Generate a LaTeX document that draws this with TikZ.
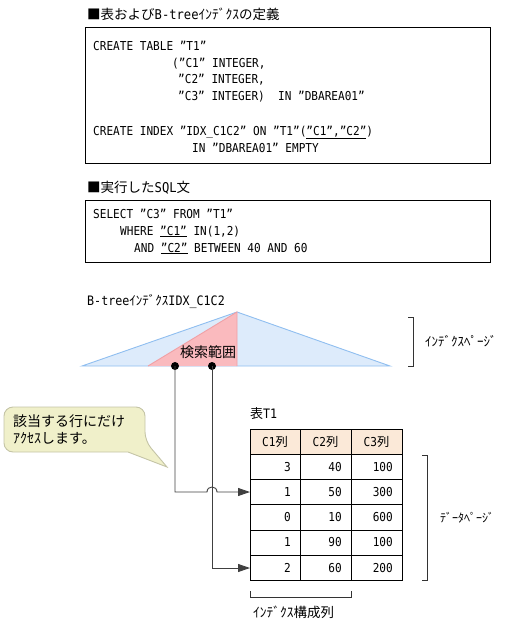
\documentclass[tikz,border=0pt]{standalone}
\usepackage{fontspec}
\newfontfamily\jp{Noto Sans CJK JP}
\newfontfamily\cd[FakeStretch=0.9]{DejaVu Sans Mono}
\usetikzlibrary{arrows.meta}
\definecolor{triblue}{RGB}{221,235,251}
\definecolor{tribluel}{RGB}{143,190,240}
\definecolor{tripink}{RGB}{250,186,190}
\definecolor{tripinkl}{RGB}{240,160,165}
\definecolor{hdrfill}{RGB}{251,233,216}
\definecolor{callfill}{RGB}{240,240,202}
\definecolor{callline}{RGB}{196,196,166}
\tikzset{
  code/.style={anchor=base west, inner sep=0pt, font=\cd\fontsize{12.3}{14}\selectfont},
  jlab/.style={anchor=base west, inner sep=0pt, font=\jp\fontsize{13.5}{15}\selectfont},
  hlab/.style={anchor=base west, inner sep=0pt, font=\jp\fontsize{12}{14}\selectfont},
  frame/.style={draw=black, line width=0.9pt},
  cell/.style={anchor=base east, inner sep=0pt, font=\cd\fontsize{12.3}{14}\selectfont},
  hcell/.style={anchor=base, inner sep=0pt, font=\cd\fontsize{12.3}{14}\selectfont},
  dot/.style={circle, fill=black, inner sep=0pt, minimum size=8pt},
  conn/.style={draw=black!75, line width=0.9pt},
  brk/.style={draw=black!80, line width=0.9pt},
  tip/.style={-{Triangle[length=12pt,width=8pt]}},
}
\begin{document}
\begin{tikzpicture}[x=1pt,y=-1pt]
\useasboundingbox (0,0) rectangle (507,624);

% ---- definitions box
\node[jlab] (title1) at (87,19) {■表および{\cd B-tree}ｲﾝﾃﾞｸｽの定義};
\draw[frame] (85,27) rectangle (490,163);
\node[code] (l1) at (93,50) {CREATE TABLE ”T1”};
\node[code] (l2) at (172,67) {(”C1” INTEGER,};
\node[code] (l3) at (178,83) {”C2” INTEGER,};
\node[code] (l4) at (178,100) {”C3” INTEGER)\ \ IN ”DBAREA01”};
\node[code] (l5) at (93,135) {CREATE INDEX ”IDX\_C1C2” ON ”T1”(\underline{”C1”,”C2”})};
\node[code] (l6) at (192,152) {IN ”DBAREA01” EMPTY};

% ---- SQL box
\node[jlab] (title2) at (87,192) {■実行した{\cd SQL}文};
\draw[frame] (85,200) rectangle (490,262);
\node[code] (s1) at (93,218) {SELECT ”C3” FROM ”T1”};
\node[code] (s2) at (120,235) {WHERE \underline{”C1”} IN(1,2)};
\node[code] (s3) at (134,252) {AND \underline{”C2”} BETWEEN 40 AND 60};

% ---- B-tree
\node[hlab, font=\jp\fontsize{13}{15}\selectfont] (treelab) at (87,305) {{\cd B-tree}ｲﾝﾃﾞｸｽ{\cd IDX\_C1C2}};
\fill[triblue] (82,366) -- (237,312) -- (390,366) -- cycle;
\draw[tribluel, line width=0.9pt] (82,366) -- (237,312) -- (390,366) -- cycle;
\fill[tripink] (148,366) -- (237,312) -- (237,366) -- cycle;
\draw[tripinkl, line width=0.9pt] (148,366) -- (237,312) -- (237,366);
\node[inner sep=0pt, font=\jp\fontsize{14}{16}\selectfont] (range) at (208,352) {検索範囲};
\draw[brk] (408,317) -- (413,317) -- (413,366) -- (408,366);
\node[hlab, font=\jp\fontsize{13}{15}\selectfont] (ipage) at (425,346) {ｲﾝﾃﾞｸｽﾍﾟｰｼﾞ};

% ---- callout
\draw[fill=callfill, draw=callline, line width=0.9pt]
  (4,430) [rounded corners=9] |- (145,407) -- (145,441) [sharp corners] -- (167,467) -- (128,452) [rounded corners=9] -| (4,430) -- cycle;
\node[anchor=base west, inner sep=0pt, font=\jp\fontsize{14}{16}\selectfont] (call1) at (13,426) {該当する行にだけ};
\node[anchor=base west, inner sep=0pt, font=\jp\fontsize{14}{16}\selectfont] (call2) at (13,443) {ｱｸｾｽします。};

% ---- table
\node[anchor=base west, inner sep=0pt, font=\jp\fontsize{13}{15}\selectfont] (tname) at (250,418) {表{\cd T1}};
\fill[hdrfill] (250,429) rectangle (402,454);
\draw[frame] (250,429) rectangle (402,580);
\foreach \yy in {454,479,504,530,555} \draw[frame] (250,\yy) -- (402,\yy);
\foreach \xx in {300,351} \draw[frame] (\xx,429) -- (\xx,580);
\node[hcell] (h1) at (275,446) {C1{\jp 列}};
\node[hcell] (h2) at (325.5,446) {C2{\jp 列}};
\node[hcell] (h3) at (376.5,446) {C3{\jp 列}};
\foreach \a/\b/\c [count=\i] in {3/40/100,1/50/300,0/10/600,1/90/100,2/60/200}{
  \node[cell] at (291,446+25.2*\i) {\a};
  \node[cell] at (342,446+25.2*\i) {\b};
  \node[cell] at (393,446+25.2*\i) {\c};
}
\draw[brk] (422,455) -- (427,455) -- (427,580) -- (422,580);
\node[hlab] (dpage) at (440,522) {ﾃﾞｰﾀﾍﾟｰｼﾞ};
\draw[brk] (250,591) -- (250,597) -- (351,597) -- (351,591);
\node[hlab, font=\jp\fontsize{13.5}{15}\selectfont] (icols) at (253,617) {ｲﾝﾃﾞｸｽ構成列};

% ---- connectors
\node[dot] (d1) at (175,366) {};
\node[dot] (d2) at (212,366) {};
\coordinate (r2w) at (250,492);
\coordinate (r5w) at (250,568);
\coordinate (hopL) at (207,492);
\coordinate (hopR) at (217,492);
\draw[conn, tip] (d1.center) -- (d1.center |- r2w) -- (hopL) .. controls (207,485.3) and (217,485.3) .. (hopR) -- (r2w);
\draw[conn, tip] (d2.center) |- (r5w);
\end{tikzpicture}
\end{document}
